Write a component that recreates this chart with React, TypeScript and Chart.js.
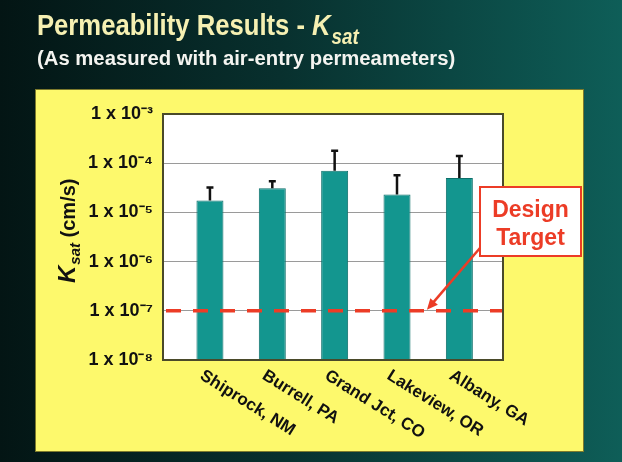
import React, { useEffect, useRef } from "react";
import { Chart, registerables } from "chart.js";

Chart.register(...registerables);

// ---------- data ----------
const sites = ["Shiprock, NM", "Burrell, PA", "Grand Jct, CO", "Lakeview, OR", "Albany, GA"];
const ksatMean = [1.75e-5, 3.1e-5, 7.0e-5, 2.3e-5, 5.0e-5];
const ksatUpper = [3.2e-5, 4.3e-5, 1.8e-4, 5.7e-5, 1.4e-4];
const yTickValues = [1e-8, 1e-7, 1e-6, 1e-5, 1e-4, 1e-3];
const yTickLabels = ["1 x 10⁻⁸", "1 x 10⁻⁷", "1 x 10⁻⁶", "1 x 10⁻⁵", "1 x 10⁻⁴", "1 x 10⁻³"];
const designTarget = 1e-7;
const targetLabel = ["Design", "Target"];
const arrowTipX = 3.48;
const titleMain = "Permeability Results - ";
const titleK = "K";
const titleSub = "sat";
const subtitle = "(As measured with air-entry permeameters)";
const yTitleParts = ["K", "sat", " (cm/s)"];

// ---------- styles ----------
const FONT = '"Liberation Sans", Arial, Helvetica, sans-serif';
const RED = "#ec3c26";
const BAR = "#13968f";
const BAR_EDGE = "#0c6f6a";
const YELLOW = "#fdf96c";

const decorPlugin = {
  id: "decor",
  beforeDraw(chart: any) {
    const { ctx, width, height, chartArea } = chart;
    ctx.save();
    const g = ctx.createLinearGradient(0, 0, width, 0);
    g.addColorStop(0, "#031514");
    g.addColorStop(0.45, "#08302e");
    g.addColorStop(1, "#0e5e58");
    ctx.fillStyle = g;
    ctx.fillRect(0, 0, width, height);
    ctx.fillStyle = YELLOW;
    ctx.fillRect(35, 89, 549, 363);
    ctx.strokeStyle = "#7d7a2c";
    ctx.lineWidth = 1;
    ctx.strokeRect(35.5, 89.5, 548, 362);
    ctx.save();
    ctx.translate(37, 35);
    ctx.scale(0.855, 1);
    ctx.fillStyle = "#f6f0b2";
    ctx.textBaseline = "alphabetic";
    ctx.textAlign = "left";
    ctx.font = `bold 30px ${FONT}`;
    ctx.fillText(titleMain, 0, 0);
    let w = ctx.measureText(titleMain).width;
    ctx.font = `italic bold 30px ${FONT}`;
    ctx.fillText(titleK, w, 0);
    w += ctx.measureText(titleK).width;
    ctx.font = `italic bold 22px ${FONT}`;
    ctx.fillText(titleSub, w + 1, 9);
    ctx.restore();
    ctx.fillStyle = "#f4f4f0";
    ctx.font = `bold 20.3px ${FONT}`;
    ctx.fillText(subtitle, 37, 65);
    ctx.fillStyle = "#ffffff";
    ctx.fillRect(chartArea.left, chartArea.top, chartArea.right - chartArea.left, chartArea.bottom - chartArea.top);
    ctx.restore();
  },
  afterDatasetsDraw(chart: any) {
    const { ctx, chartArea } = chart;
    const xs = chart.scales.x;
    const ys = chart.scales.y;
    ctx.save();
    // error bars (upper only)
    ctx.strokeStyle = "#111111";
    ctx.lineWidth = 2.5;
    ksatUpper.forEach((u, i) => {
      const x = xs.getPixelForValue(i);
      const y0 = ys.getPixelForValue(ksatMean[i]);
      const y1 = ys.getPixelForValue(u);
      ctx.beginPath();
      ctx.moveTo(x, y0);
      ctx.lineTo(x, y1);
      ctx.moveTo(x - 3.5, y1);
      ctx.lineTo(x + 3.5, y1);
      ctx.stroke();
    });
    // design target dashed line
    const ty = ys.getPixelForValue(designTarget);
    ctx.strokeStyle = RED;
    ctx.lineWidth = 3.5;
    ctx.setLineDash([15, 12]);
    ctx.beginPath();
    ctx.moveTo(chartArea.left + 3, ty);
    ctx.lineTo(chartArea.right, ty);
    ctx.stroke();
    ctx.setLineDash([]);
    // plot border
    ctx.strokeStyle = "#4a4a2a";
    ctx.lineWidth = 2;
    ctx.strokeRect(chartArea.left, chartArea.top, chartArea.right - chartArea.left, chartArea.bottom - chartArea.top);
    // x labels (rotated clockwise)
    ctx.fillStyle = "#111111";
    ctx.font = `bold 17px ${FONT}`;
    ctx.textAlign = "left";
    ctx.textBaseline = "top";
    sites.forEach((s, i) => {
      const x = xs.getPixelForValue(i);
      ctx.save();
      ctx.translate(x - 4, chartArea.bottom + 7);
      ctx.rotate((32 * Math.PI) / 180);
      ctx.fillText(s, 0, 0);
      ctx.restore();
    });
    // y title
    ctx.save();
    ctx.translate(75, 283);
    ctx.rotate(-Math.PI / 2);
    ctx.textBaseline = "alphabetic";
    ctx.fillStyle = "#111111";
    ctx.font = `italic bold 24px ${FONT}`;
    ctx.fillText(yTitleParts[0], 0, 0);
    let w = ctx.measureText(yTitleParts[0]).width;
    ctx.font = `italic bold 15px ${FONT}`;
    ctx.fillText(yTitleParts[1], w + 1, 5);
    w += ctx.measureText(yTitleParts[1]).width + 1;
    ctx.font = `bold 20px ${FONT}`;
    ctx.fillText(yTitleParts[2], w, 0);
    ctx.restore();
    // annotation box
    const bx = chartArea.right - 23;
    const by = chartArea.top + 73;
    const bw = 101;
    const bh = 69;
    ctx.fillStyle = "#ffffff";
    ctx.fillRect(bx, by, bw, bh);
    ctx.strokeStyle = RED;
    ctx.lineWidth = 2;
    ctx.strokeRect(bx, by, bw, bh);
    ctx.fillStyle = RED;
    ctx.font = `bold 23px ${FONT}`;
    ctx.textAlign = "center";
    ctx.textBaseline = "alphabetic";
    ctx.fillText(targetLabel[0], bx + bw / 2, by + 30);
    ctx.fillText(targetLabel[1], bx + bw / 2, by + 58);
    // arrow
    const sx = bx;
    const sy = by + 61;
    const ex = xs.getPixelForValue(arrowTipX);
    const ey = ty - 1;
    const ang = Math.atan2(ey - sy, ex - sx);
    const headLen = 11;
    ctx.strokeStyle = RED;
    ctx.lineWidth = 2.5;
    ctx.beginPath();
    ctx.moveTo(sx, sy);
    ctx.lineTo(ex - Math.cos(ang) * headLen * 0.8, ey - Math.sin(ang) * headLen * 0.8);
    ctx.stroke();
    ctx.beginPath();
    ctx.moveTo(ex, ey);
    ctx.lineTo(ex - headLen * Math.cos(ang) + 5 * Math.sin(ang), ey - headLen * Math.sin(ang) - 5 * Math.cos(ang));
    ctx.lineTo(ex - headLen * Math.cos(ang) - 5 * Math.sin(ang), ey - headLen * Math.sin(ang) + 5 * Math.cos(ang));
    ctx.closePath();
    ctx.fill();
    ctx.restore();
  },
};

export default function App() {
  const ref = useRef<HTMLCanvasElement | null>(null);
  useEffect(() => {
    if (!ref.current) return;
    const chart = new Chart(ref.current, {
      type: "bar",
      data: {
        datasets: [
          {
            label: "Ksat",
            data: ksatMean.map((v, i) => ({ x: i, y: v })),
            backgroundColor: BAR,
            borderColor: BAR_EDGE,
            borderWidth: 1,
            categoryPercentage: 1,
            barPercentage: 0.433,
          },
        ],
      },
      options: {
        animation: false,
        responsive: false,
        events: [],
        layout: { padding: { left: 0, top: 114, right: 119, bottom: 0 } },
        plugins: { legend: { display: false }, tooltip: { enabled: false }, title: { display: false } },
        scales: {
          x: {
            type: "linear",
            min: -0.753,
            max: 4.7,
            offset: false,
            grid: { display: false },
            border: { display: false },
            ticks: { display: false },
            afterBuildTicks: (s: any) => {
              s.ticks = sites.map((_, i) => ({ value: i }));
            },
            afterFit: (s: any) => {
              s.height = 102;
            },
          },
          y: {
            type: "logarithmic",
            min: 1e-8,
            max: 1e-3,
            afterBuildTicks: (s: any) => {
              s.ticks = yTickValues.map((v) => ({ value: v }));
            },
            afterFit: (s: any) => {
              s.width = 163;
            },
            grid: { color: "#9a9a9a", lineWidth: 1, drawTicks: false },
            border: { display: false },
            ticks: {
              padding: 10,
              color: "#111111",
              font: { family: FONT, weight: "bold", size: 18 },
              callback: (value: any) => {
                const idx = yTickValues.findIndex((t) => Math.abs(Math.log10(t) - Math.log10(value)) < 1e-6);
                return idx >= 0 ? yTickLabels[idx] : "";
              },
            },
          },
        },
      },
      plugins: [decorPlugin],
    } as any);
    return () => chart.destroy();
  }, []);
  return (
    <div style={{ position: "fixed", left: 0, top: 0, width: 622, height: 462 }}>
      <canvas ref={ref} width={622} height={462} style={{ display: "block" }} />
    </div>
  );
}
